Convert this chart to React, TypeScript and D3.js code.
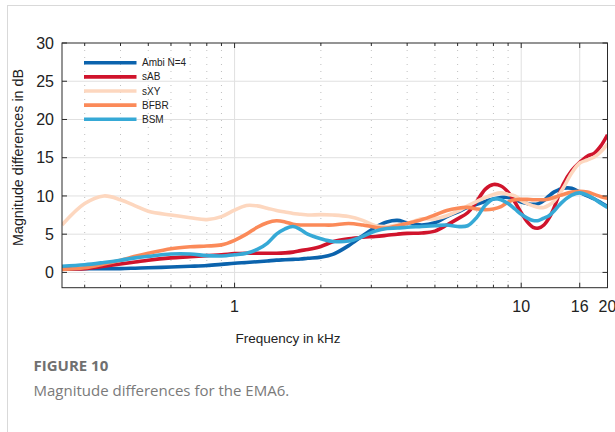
import React from "react";
import * as d3 from "d3";

const FREQS = [0.25, 0.3, 0.35, 0.4, 0.45, 0.5, 0.6, 0.7, 0.8, 0.9, 1, 1.1, 1.2, 1.3, 1.4, 1.5, 1.6, 1.7, 1.8, 2, 2.2, 2.5, 2.8, 3.1, 3.4, 3.7, 4, 4.5, 5, 5.5, 6, 6.5, 7, 7.5, 8, 8.5, 9, 9.5, 10, 10.5, 11, 11.5, 12, 12.5, 13, 13.5, 14, 15, 16, 17, 18, 19, 20];

const AMBI = [0.45, 0.5, 0.5, 0.5, 0.55, 0.6, 0.7, 0.8, 0.9, 1.05, 1.2, 1.3, 1.4, 1.5, 1.6, 1.65, 1.7, 1.75, 1.85, 2.0, 2.35, 3.5, 4.8, 5.9, 6.6, 6.8, 6.5, 6.2, 6.5, 7.3, 7.9, 8.5, 8.9, 9.3, 9.6, 9.8, 9.8, 9.6, 9.2, 9.0, 8.9, 9.0, 9.4, 10.0, 10.5, 10.8, 11.0, 11.0, 10.5, 10.0, 9.6, 9.1, 8.6];
const SAB = [0.45, 0.5, 0.8, 1.1, 1.35, 1.6, 1.9, 2.05, 2.2, 2.3, 2.45, 2.5, 2.5, 2.5, 2.5, 2.55, 2.65, 2.85, 3.0, 3.4, 4.0, 4.4, 4.6, 4.7, 4.85, 5.0, 5.1, 5.15, 5.4, 6.2, 7.0, 7.8, 9.3, 10.9, 11.5, 11.3, 10.5, 9.2, 7.8, 6.6, 5.9, 5.8, 6.2, 7.1, 8.4, 10.0, 11.5, 13.3, 14.4, 15.2, 15.6, 16.6, 18.0];
const SXY = [6.2, 9.0, 10.0, 9.5, 8.7, 8.0, 7.5, 7.15, 6.9, 7.3, 8.15, 8.75, 8.7, 8.4, 8.1, 7.9, 7.7, 7.6, 7.5, 7.55, 7.5, 7.3, 6.8, 6.1, 6.0, 6.2, 6.4, 7.0, 7.0, 7.4, 8.0, 8.7, 9.3, 9.8, 10.2, 10.4, 10.2, 10.0, 9.4, 9.0, 8.7, 8.5, 8.5, 8.8, 9.3, 10.1, 11.0, 13.0, 14.3, 14.7, 15.1, 15.8, 16.8];
const BFBR = [0.4, 0.6, 1.1, 1.6, 2.1, 2.5, 3.1, 3.35, 3.45, 3.6, 4.2, 5.0, 5.9, 6.5, 6.75, 6.6, 6.3, 6.2, 6.2, 6.2, 6.2, 6.4, 6.2, 5.9, 5.8, 6.1, 6.4, 6.9, 7.5, 8.1, 8.4, 8.5, 8.3, 8.2, 8.3, 8.6, 9.2, 9.5, 9.55, 9.55, 9.5, 9.5, 9.5, 9.6, 9.8, 10.0, 10.2, 10.5, 10.6, 10.5, 10.2, 9.9, 9.7];
const BSM = [0.8, 1.0, 1.3, 1.6, 1.9, 2.1, 2.4, 2.4, 2.2, 2.15, 2.3, 2.5, 3.0, 3.8, 5.0, 5.7, 6.0, 5.6, 5.0, 4.4, 4.05, 4.1, 4.7, 5.4, 5.75, 5.8, 5.9, 6.0, 6.1, 6.2, 6.0, 6.1, 7.2, 8.8, 9.6, 9.5, 9.0, 8.3, 7.6, 7.1, 6.8, 6.8, 7.1, 7.4, 8.0, 8.7, 9.3, 10.1, 10.4, 10.1, 9.6, 9.0, 8.5];

const SERIES_NAMES = ["Ambi N=4", "sAB", "sXY", "BFBR", "BSM"];
const SERIES_VALUES = [AMBI, SAB, SXY, BFBR, BSM];
const SERIES_COLORS = ["#0b63ad", "#d0142c", "#fdd7bf", "#fb8a59", "#36a9d6"];

const Y_TICKS = [0, 5, 10, 15, 20, 25, 30];
const X_MAJOR = [1, 10, 16, 20];
const X_MAJOR_LABELS = ["1", "10", "16", "20"];
const X_MINOR = [0.3, 0.4, 0.5, 0.6, 0.7, 0.8, 0.9, 2, 3, 4, 5, 6, 7, 8, 9];

const W = 615;
const H = 432;
const M = { left: 62, top: 43, right: 607.5, bottom: 287.7 };

export default function App() {
  const x = d3.scaleLog().domain([0.25, 20]).range([M.left, M.right]);
  const y = d3.scaleLinear().domain([-2, 30]).range([M.bottom, M.top]);

  const line = d3
    .line<number>()
    .x((_, i) => x(FREQS[i]))
    .y((v) => y(v))
    .curve(d3.curveCatmullRom.alpha(0.5));

  const axisColor = "#2a2a2a";
  const font = "'Liberation Sans', Arial, Helvetica, sans-serif";

  return (
    <svg
      width={W}
      height={H}
      style={{ position: "absolute", left: 0, top: 0, background: "#fff" }}
    >
      <defs>
        <clipPath id="plotclip">
          <rect x={M.left} y={M.top} width={M.right - M.left} height={M.bottom - M.top} />
        </clipPath>
      </defs>
      {/* card frame */}
      <line x1={7} y1={5.5} x2={W} y2={5.5} stroke="#d9d9d9" strokeWidth={1} />
      <line x1={7.5} y1={5} x2={7.5} y2={H} stroke="#d9d9d9" strokeWidth={1} />

      {/* grid */}
      {Y_TICKS.filter((t) => t < 30).map((t) => (
        <line key={"gy" + t} x1={M.left} x2={M.right} y1={y(t)} y2={y(t)} stroke="#e0e0e0" strokeWidth={1} />
      ))}
      {X_MAJOR.filter((t) => t < 20).map((t) => (
        <line key={"gx" + t} x1={x(t)} x2={x(t)} y1={M.top} y2={M.bottom} stroke="#e0e0e0" strokeWidth={1} />
      ))}
      {X_MINOR.map((t) => (
        <line
          key={"gm" + t}
          x1={x(t)}
          x2={x(t)}
          y1={M.top}
          y2={M.bottom}
          stroke="#b0b0b0"
          strokeWidth={0.8}
          strokeDasharray="1,6"
        />
      ))}

      {/* series */}
      <g clipPath="url(#plotclip)">
        {SERIES_VALUES.map((vals, i) => (
          <path
            key={SERIES_NAMES[i]}
            d={line(vals) || ""}
            fill="none"
            stroke={SERIES_COLORS[i]}
            strokeWidth={3.6}
            strokeLinejoin="round"
          />
        ))}
      </g>

      {/* axes box */}
      <rect
        x={M.left}
        y={M.top}
        width={M.right - M.left}
        height={M.bottom - M.top}
        fill="none"
        stroke={axisColor}
        strokeWidth={1}
      />
      {/* y ticks */}
      {Y_TICKS.map((t) => (
        <g key={"yt" + t}>
          <line x1={M.left} x2={M.left + 5} y1={y(t)} y2={y(t)} stroke={axisColor} />
          <line x1={M.right} x2={M.right - 5} y1={y(t)} y2={y(t)} stroke={axisColor} />
          <text
            x={M.left - 8}
            y={y(t)}
            dy="0.36em"
            textAnchor="end"
            fontFamily={font}
            fontSize={16}
            fill="#222"
          >
            {t}
          </text>
        </g>
      ))}
      {/* x ticks */}
      {X_MAJOR.map((t, i) => (
        <g key={"xt" + t}>
          <line x1={x(t)} x2={x(t)} y1={M.bottom} y2={M.bottom - 5} stroke={axisColor} />
          <line x1={x(t)} x2={x(t)} y1={M.top} y2={M.top + 5} stroke={axisColor} />
          <text
            x={x(t)}
            y={311.5}
            textAnchor="middle"
            fontFamily={font}
            fontSize={16}
            fill="#222"
          >
            {X_MAJOR_LABELS[i]}
          </text>
        </g>
      ))}
      {X_MINOR.map((t) => (
        <g key={"xm" + t}>
          <line x1={x(t)} x2={x(t)} y1={M.bottom} y2={M.bottom - 3} stroke={axisColor} />
          <line x1={x(t)} x2={x(t)} y1={M.top} y2={M.top + 3} stroke={axisColor} />
        </g>
      ))}

      {/* axis labels */}
      <text
        x={288}
        y={343}
        textAnchor="middle"
        fontFamily={font}
        fontSize={13.5}
        fill="#222"
      >
        Frequency in kHz
      </text>
      <text
        transform="translate(23,157.5) rotate(-90)"
        textAnchor="middle"
        fontFamily={font}
        fontSize={14.3}
        fill="#222"
      >
        Magnitude differences in dB
      </text>

      {/* legend */}
      {SERIES_NAMES.map((name, i) => {
        const ly = 62.7 + i * 14.15;
        return (
          <g key={"lg" + name}>
            <line x1={84} x2={136.5} y1={ly} y2={ly} stroke={SERIES_COLORS[i]} strokeWidth={3.6} />
            <text x={142} y={ly} dy="0.35em" fontFamily={font} fontSize={10} fill="#222">
              {name}
            </text>
          </g>
        );
      })}

      {/* caption */}
      <text x={33.5} y={370.5} fontFamily="'Open Sans', sans-serif" fontWeight={700} fontSize={15} fill="#707070">
        FIGURE 10
      </text>
      <text x={33.5} y={395.5} fontFamily="'Open Sans', sans-serif" fontSize={15} fill="#7a7a7a">
        Magnitude differences for the EMA6.
      </text>
    </svg>
  );
}
